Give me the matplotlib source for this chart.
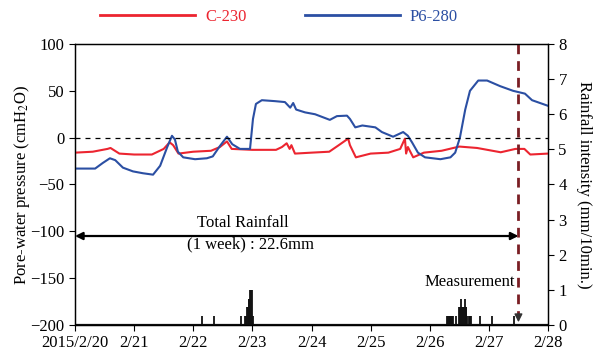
import matplotlib
matplotlib.use("Agg")
import matplotlib.pyplot as plt
from matplotlib.lines import Line2D

plt.rcParams['font.family'] = ['Liberation Serif', 'DejaVu Serif']
plt.rcParams['mathtext.fontset'] = 'stix'

# ---- data (days since 2015/2/20 00:00) ----
xtick_labels = ['2015/2/20', '2/21', '2/22', '2/23', '2/24', '2/25', '2/26', '2/27', '2/28']

c230_t = [0.0, 0.3, 0.55, 0.6, 0.75, 1.0, 1.3, 1.5, 1.6, 1.66, 1.75, 2.0, 2.3, 2.45, 2.57,
          2.65, 3.0, 3.4, 3.5, 3.58, 3.63, 3.66, 3.72, 4.0, 4.3, 4.45, 4.62, 4.65, 4.75,
          5.0, 5.3, 5.5, 5.58, 5.6, 5.63, 5.72, 5.9, 6.2, 6.5, 6.8, 7.2, 7.45, 7.6, 7.7, 8.0]
c230_v = [-16, -15, -12, -11, -17, -18, -18, -12, -5, -8, -17, -15, -14, -10, -4,
          -12, -13, -13, -10, -6, -12, -8, -17, -16, -15, -8.5, -1, -8, -21,
          -17, -16, -12, -1, -17, -10, -21, -16, -14, -9.5, -11, -15.6, -12, -12, -18, -17]

p6_t = [0.0, 0.34, 0.47, 0.59, 0.68, 0.81, 0.98, 1.15, 1.32, 1.44, 1.56, 1.64, 1.69, 1.74,
        1.83, 2.03, 2.23, 2.33, 2.45, 2.57, 2.66, 2.79, 2.96, 3.01, 3.06, 3.16, 3.38, 3.55,
        3.64, 3.69, 3.74, 3.89, 4.06, 4.31, 4.43, 4.6, 4.65, 4.74, 4.86, 5.08, 5.19, 5.38,
        5.55, 5.63, 5.7, 5.8, 5.92, 6.18, 6.35, 6.43, 6.51, 6.6, 6.68, 6.82, 6.97, 7.19,
        7.41, 7.61, 7.73, 8.0]
p6_v = [-33, -33, -27, -22, -24, -32, -36, -38, -39.5, -30, -10, 2, -2, -15,
        -21, -23, -22, -20, -9, 1, -7, -12, -12, 20, 36, 40, 39, 38,
        32, 37, 30, 27, 25, 19, 23, 23.5, 20, 11, 13, 11, 6, 1,
        6, 2, -5, -16, -21, -23, -21, -16, 0, 30, 50, 61, 61, 55,
        50, 47, 40, 34]

rain_t = [2.154, 2.357, 2.804, 2.875, 2.89, 2.905, 2.92, 2.935, 2.95, 2.965, 2.98, 2.995, 3.017,
          6.300, 6.312, 6.324, 6.336, 6.348, 6.360, 6.372, 6.384, 6.396, 6.45,
          6.495, 6.507, 6.525, 6.545, 6.56, 6.575, 6.59, 6.605, 6.62, 6.635,
          6.66, 6.675, 6.69, 6.85, 7.05, 7.43]
rain_v = [0.25, 0.25, 0.25, 0.25, 0.25, 0.5, 0.5, 0.75, 0.75, 1.0, 1.0, 1.0, 0.25,
          0.25, 0.25, 0.25, 0.25, 0.25, 0.25, 0.25, 0.25, 0.25, 0.25,
          0.5, 0.5, 0.75, 0.5, 0.5, 0.5, 0.75, 0.5, 0.5, 0.25,
          0.25, 0.25, 0.25, 0.25, 0.25, 0.25]

measure_t = 7.5

red = '#ec2530'
blue = '#2b4fa3'
dark_red = '#7a1e24'

fig = plt.figure(figsize=(6.03, 3.58), dpi=100)
ax = fig.add_axes([0.1244, 0.0922, 0.7844, 0.7849])
ax2 = ax.twinx()

fs = 12
# rainfall
ax2.vlines(rain_t, 0, rain_v, colors='#111111', lw=1.3)
ax2.axhline(0, color='#111111', lw=1.6)
ax2.set_ylim(0, 8)
ax2.set_yticks(range(0, 9))
ax2.tick_params(axis='y', direction='out', length=4, labelsize=fs, width=0.8)
ax2.set_ylabel('Rainfall intensity (mm/10min.)', rotation=-90, labelpad=18, fontsize=fs)

# pressure
ax.set_zorder(ax2.get_zorder() + 1)
ax.patch.set_visible(False)
ax.plot(c230_t, c230_v, color=red, lw=1.5)
ax.plot(p6_t, p6_v, color=blue, lw=1.5)
ax.axhline(0, color='black', lw=0.9, ls=(0, (4, 4)))
ax.set_xlim(0, 8)
ax.set_ylim(-200, 100)
ax.set_yticks(range(-200, 101, 50))
ax.set_xticks(range(0, 9))
ax.set_xticklabels(xtick_labels)
ax.tick_params(axis='both', direction='out', length=4, labelsize=fs, width=0.8)
ax.set_ylabel('Pore-water pressure (cmH$_2$O)', fontsize=fs, labelpad=-1)
for a in (ax, ax2):
    for s in a.spines.values():
        s.set_linewidth(0.9)

# measurement line
ax.plot([measure_t, measure_t], [100, -188], color=dark_red, lw=2, ls=(0, (3.5, 2.5)))
ax.annotate('', xy=(measure_t, -200), xytext=(measure_t, -186),
            arrowprops=dict(arrowstyle='-|>', color='#333333', lw=1, mutation_scale=12))
ax.text(measure_t - 0.06, -154, 'Measurement', ha='right', va='center', fontsize=fs)

# total rainfall arrow
ax.annotate('', xy=(0, -105), xytext=(measure_t, -105),
            arrowprops=dict(arrowstyle='<|-|>', color='black', lw=1.6, mutation_scale=11,
                            shrinkA=0, shrinkB=0))
ax.text(2.84, -91, 'Total Rainfall', ha='center', va='center', fontsize=fs)
ax.text(2.96, -114, '(1 week) : 22.6mm', ha='center', va='center', fontsize=fs)

# legend
handles = [Line2D([], [], color=red, lw=2), Line2D([], [], color=blue, lw=2)]
leg = fig.legend(handles, ['C-230', 'P6-280'], loc='center', bbox_to_anchor=(279 / 603, 1 - 17 / 358),
                 ncol=2, frameon=False, handlelength=5.7, handletextpad=0.6, columnspacing=3.5,
                 fontsize=fs)
for txt, col in zip(leg.get_texts(), [red, blue]):
    txt.set_color(col)

fig.savefig('out.png', dpi=100)
